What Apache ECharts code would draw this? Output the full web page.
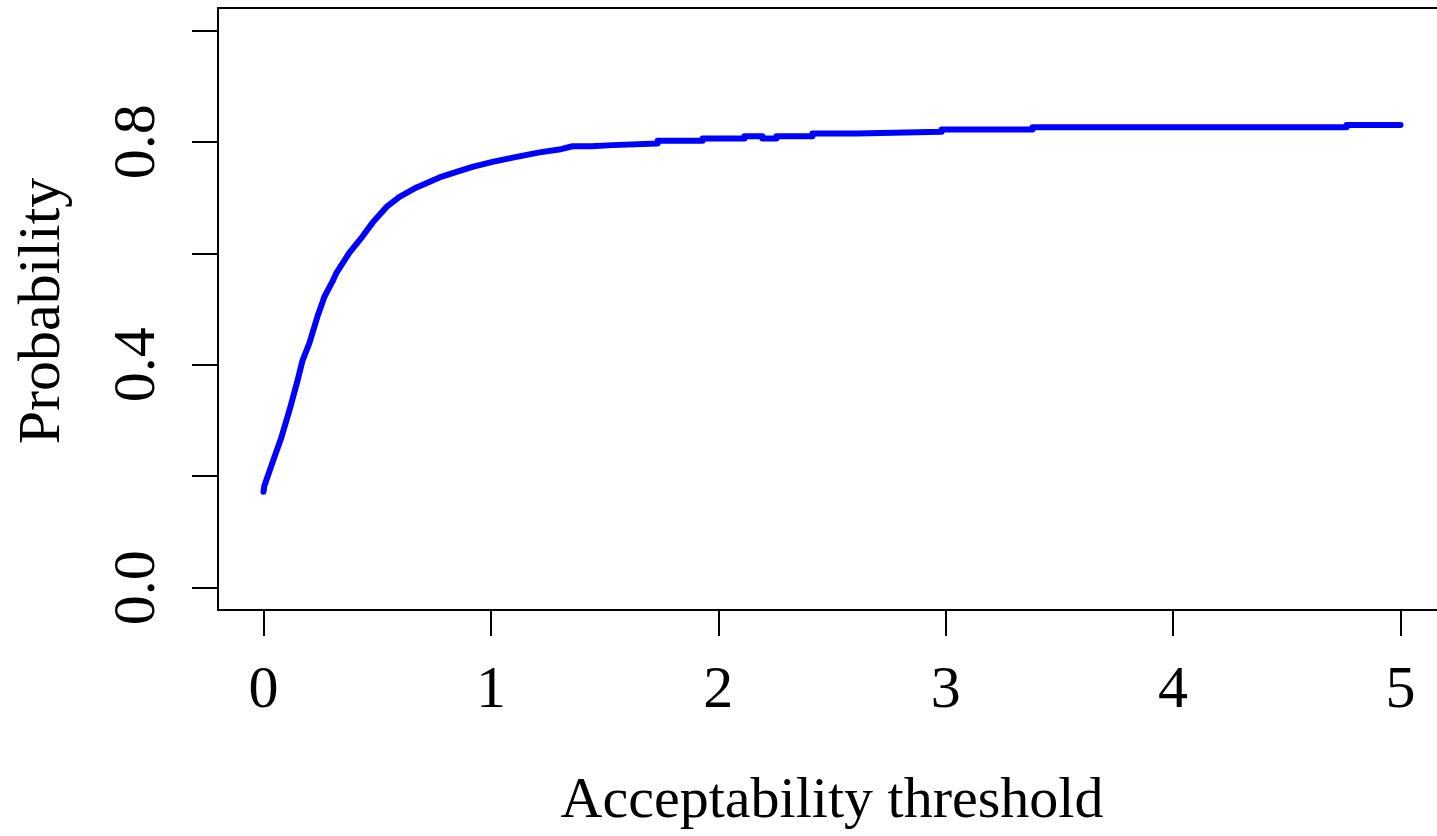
<!DOCTYPE html>
<html>
<head>
<meta charset="utf-8">
<script src="https://cdn.jsdelivr.net/npm/echarts@6/dist/echarts.min.js"></script>
<style>
html,body{margin:0;padding:0;background:#fff;}
#chart{width:1437px;height:836px;}
</style>
</head>
<body>
<div id="chart"></div>
<script>
// Data
var thresholds = [0, 0.004, 0.04, 0.079, 0.114, 0.15, 0.172, 0.202, 0.237, 0.268, 0.303, 0.321, 0.378, 0.435, 0.48, 0.541, 0.598, 0.673, 0.774, 0.849, 0.919, 1.007, 1.113, 1.214, 1.30,
  1.359, 1.442, 1.442, 1.535, 1.535, 1.733, 1.733, 1.931, 1.931, 2.115, 2.115, 2.194, 2.194, 2.256, 2.256, 2.414, 2.414, 2.608, 2.608, 2.982, 2.982, 3.382, 3.382, 4.763, 4.763, 5.0];
var probabilities = [0.172, 0.183, 0.225, 0.270, 0.318, 0.372, 0.408, 0.439, 0.486, 0.522, 0.549, 0.565, 0.601, 0.630, 0.655, 0.683, 0.701, 0.718, 0.736, 0.746, 0.755, 0.764, 0.773, 0.781, 0.786,
  0.792, 0.792, 0.794, 0.794, 0.797, 0.797, 0.802, 0.802, 0.806, 0.806, 0.810, 0.810, 0.806, 0.806, 0.810, 0.810, 0.815, 0.815, 0.818, 0.818, 0.822, 0.822, 0.826, 0.826, 0.830, 0.830];
var xTicks = [0, 1, 2, 3, 4, 5];
var yTicks = [0, 0.2, 0.4, 0.6, 0.8, 1.0];
var yLabels = [0, 0.4, 0.8];
var xTitle = 'Acceptability threshold';
var yTitle = 'Probability';

var FONT = '"Liberation Serif", "DejaVu Serif", serif';
var chart = echarts.init(document.getElementById('chart'), null, {renderer: 'canvas'});
var points = thresholds.map(function (x, i) { return [x, probabilities[i]]; });

chart.setOption({
  animation: false,
  backgroundColor: '#fff',
  grid: {left: 218, top: 8, width: 1228, bottom: 226, containLabel: false, outerBoundsMode: 'none',
    show: true, borderColor: '#000', borderWidth: 2, backgroundColor: 'transparent'},
  xAxis: {
    type: 'value', min: -0.2, max: 5.2,
    splitLine: {show: false},
    axisLine: {show: false, onZero: false},
    axisTick: {show: true, inside: false, length: 26, lineStyle: {color: '#000', width: 2}, customValues: xTicks},
    axisLabel: {show: true, customValues: xTicks, margin: 51, color: '#000', fontFamily: FONT, fontSize: 60,
      formatter: function (v) { return String(Math.round(v)); }}
  },
  yAxis: {
    type: 'value', min: -0.04, max: 1.04,
    splitLine: {show: false},
    axisLine: {show: false, onZero: false},
    axisTick: {show: true, inside: false, length: 26, lineStyle: {color: '#000', width: 2}, customValues: yTicks},
    axisLabel: {show: true, customValues: yLabels, rotate: 90, margin: 50, color: '#000', fontFamily: FONT, fontSize: 60,
      formatter: function (v) { return v.toFixed(1); }}
  },
  graphic: [
    {type: 'text', x: 832, y: 802, style: {text: xTitle, fontFamily: FONT, fontSize: 58, fill: '#000', align: 'center', verticalAlign: 'middle'}},
    {type: 'text', x: 43, y: 311, rotation: Math.PI / 2, style: {text: yTitle, fontFamily: FONT, fontSize: 60, fill: '#000', align: 'center', verticalAlign: 'middle'}}
  ],
  series: [{
    type: 'line',
    data: points,
    showSymbol: false,
    symbol: 'none',
    smooth: false,
    clip: false,
    lineStyle: {color: '#0000ff', width: 6, cap: 'round', join: 'round'},
    z: 3
  }]
});
</script>
</body>
</html>
